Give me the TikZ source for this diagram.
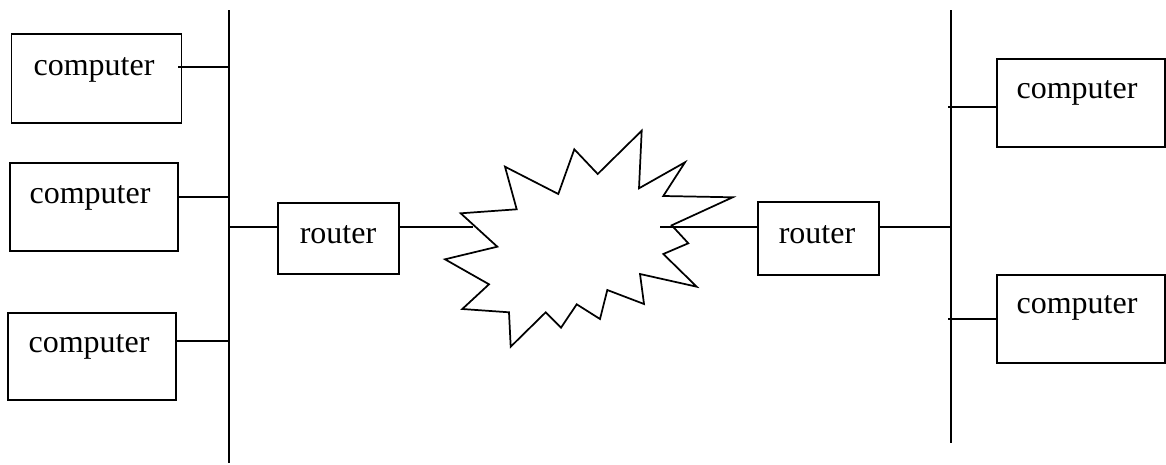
\documentclass[tikz,border=0pt]{standalone}
\usepackage{fontspec}
\setmainfont{Liberation Serif}
\begin{document}
\begin{tikzpicture}[x=0.75pt,y=-0.75pt,
  wire/.style={line width=1.4pt, line cap=butt},
  boxnode/.style={draw, line width=1.4pt, inner sep=0pt},
  lbl/.style={font=\fontsize{24pt}{28pt}\selectfont, inner sep=0pt, anchor=base}]
\useasboundingbox (0,0) rectangle (1166,464);

% Ethernet segments
\coordinate (lbTop) at (229,10);
\coordinate (lbBot) at (229,463);
\coordinate (rbTop) at (951,10);
\coordinate (rbBot) at (951,443);
\draw[wire] (lbTop) -- (lbBot);
\draw[wire] (rbTop) -- (rbBot);

% Hosts and routers (boxes given by their corners)
\path (12,34)   rectangle node[boxnode, minimum width=127.5pt, minimum height=67pt] (c1) {} (181,123);
\path (10,163)  rectangle node[boxnode, minimum width=126pt, minimum height=66pt] (c2) {} (178,251);
\path (8,313)   rectangle node[boxnode, minimum width=126pt, minimum height=65pt] (c3) {} (176,400);
\path (278,203) rectangle node[boxnode, minimum width=91pt, minimum height=53pt] (r1) {} (399,274);
\path (758,202) rectangle node[boxnode, minimum width=91pt, minimum height=55pt] (r2) {} (879,275);
\path (997,59)  rectangle node[boxnode, minimum width=126pt, minimum height=66pt] (c4) {} (1165,147);
\path (997,275) rectangle node[boxnode, minimum width=126pt, minimum height=66pt] (c5) {} (1165,363);

% Labels
\node[lbl] (c1t) at (94,75)    {computer};
\node[lbl] (c2t) at (90,203)   {computer};
\node[lbl] (c3t) at (89,352)   {computer};
\node[lbl] (c4t) at (1077,98)  {computer};
\node[lbl] (c5t) at (1077,313) {computer};
\node[lbl] (r1t) at (338,243)  {router};
\node[lbl] (r2t) at (817,243)  {router};

% Wide-area network cloud
\draw[line width=1.3pt, line join=miter, fill=white]
  (460.7,213.3) -- (516.7,209.3) -- (505,166.7) -- (558.3,194) -- (574.3,149.3)
  -- (597.7,174) -- (641.7,130.7) -- (639,188.3) -- (685,162.3) -- (663.3,196)
  -- (732.7,197.3) -- (671.7,225.3) -- (688.3,243.3) -- (663.3,254) -- (696.7,286.7)
  -- (640,274) -- (644,304) -- (607.3,290) -- (600,319) -- (576.7,304.3)
  -- (561,327.7) -- (545.7,312.3) -- (510.7,346.7) -- (509,312.3) -- (462.3,309)
  -- (489,284.3) -- (445,259.3) -- (497.3,246.7) -- cycle;
\coordinate (wanL) at (472.7,227);
\coordinate (wanR) at (660,227);

% Taps on the left segment
\coordinate (t1) at (229,67);
\coordinate (t2) at (229,197);
\coordinate (t3) at (229,341);
\coordinate (t4) at (229,227);
\draw[wire] ([xshift=-3pt]c1.east |- t1) -- (t1);
\draw[wire] (c2.east |- t2) -- (t2);
\draw[wire] (c3.east |- t3) -- (t3);
\draw[wire] (t4) -- (r1.west |- t4);

% Router links into the cloud
\draw[wire] (r1.east |- wanL) -- (wanL);
\draw[wire] (wanR) -- (r2.west |- wanR);

% Taps on the right segment
\coordinate (u1) at (951,227);
\coordinate (u2) at (948,107);
\coordinate (u3) at (948,319);
\draw[wire] ([xshift=-1.5pt]r2.east |- u1) -- (u1);
\draw[wire] (u2) -- ([xshift=1.5pt]c4.west |- u2);
\draw[wire] (u3) -- ([xshift=1.5pt]c5.west |- u3);
\end{tikzpicture}
\end{document}
